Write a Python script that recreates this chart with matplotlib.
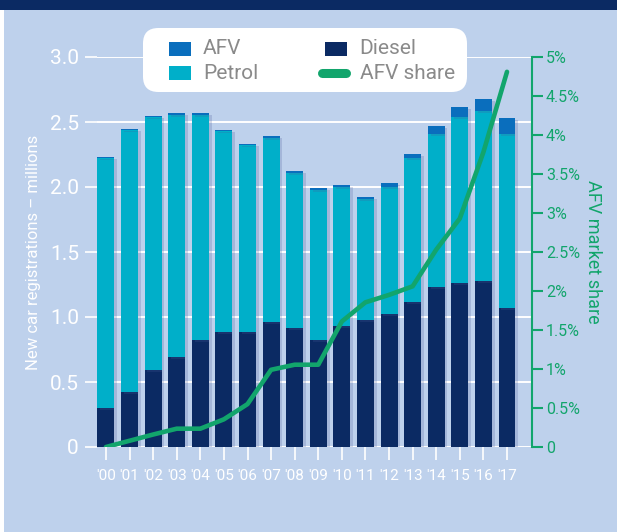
import matplotlib
matplotlib.use("Agg")
import matplotlib.pyplot as plt
import matplotlib.patheffects as pe
from matplotlib.patches import Rectangle, FancyBboxPatch
from matplotlib.lines import Line2D
from matplotlib.ticker import FixedLocator

# ── Data (millions / %) ───────────────────────────────────────────────────────

years = ["'00", "'01", "'02", "'03", "'04", "'05", "'06", "'07", "'08",
         "'09", "'10", "'11", "'12", "'13", "'14", "'15", "'16", "'17"]
diesel = [0.30, 0.42, 0.59, 0.69, 0.82, 0.885, 0.885, 0.96, 0.915,
          0.823, 0.931, 0.977, 1.023, 1.115, 1.231, 1.262, 1.277, 1.069]
petrol = [1.92, 2.02, 1.95, 1.866, 1.736, 1.545, 1.435, 1.42, 1.195,
          1.152, 1.069, 0.931, 0.977, 1.108, 1.177, 1.276, 1.308, 1.339]
afv = [0.01, 0.01, 0.01, 0.014, 0.014, 0.01, 0.01, 0.01, 0.015,
       0.015, 0.015, 0.015, 0.03, 0.031, 0.061, 0.077, 0.092, 0.123]
afv_share = [0.0, 0.08, 0.16, 0.235, 0.235, 0.355, 0.55, 0.99, 1.055,
             1.055, 1.61, 1.855, 1.95, 2.06, 2.53, 2.93, 3.78, 4.81]

left_ticks = [0, 0.5, 1.0, 1.5, 2.0, 2.5, 3.0]
left_labels = ["0", "0.5", "1.0", "1.5", "2.0", "2.5", "3.0"]
right_ticks = [0, 0.5, 1, 1.5, 2, 2.5, 3, 3.5, 4, 4.5, 5]
right_labels = ["0", "0.5%", "1%", "1.5%", "2%", "2.5%", "3%", "3.5%",
                "4%", "4.5%", "5%"]

# ── Colours ───────────────────────────────────────────────────────────────────

BG = "#BED1EC"
BAND = "#0B2A63"
C_DIESEL = "#0B2A63"
C_PETROL = "#00AFC9"
C_AFV = "#0A6EBD"
C_LINE = "#12A56C"
WHITE = "#FFFFFF"
GREY = "#8a8a8a"

plt.rcParams["font.family"] = ["Roboto", "DejaVu Sans"]

W, H = 617, 532
fig = plt.figure(figsize=(W / 100, H / 100), dpi=100)
fig.patch.set_facecolor(BG)


def fx(px):
    return px / W


def fy(py):
    # pixel rows counted from the top
    return 1 - py / H


# top band and thin left strip
fig.patches.append(Rectangle((0, fy(10)), 1, 10 / H, transform=fig.transFigure,
                             facecolor=BAND, edgecolor="none", zorder=0))
fig.patches.append(Rectangle((0, 0), fx(4), fy(10), transform=fig.transFigure,
                             facecolor=WHITE, edgecolor="none", zorder=0))

ax = fig.add_axes([fx(97), fy(447), fx(435), 390 / H])
ax.set_facecolor("none")

x = list(range(len(years)))
shadow = [pe.SimplePatchShadow(offset=(2, -1.5), shadow_rgbFace="#4a5a99", alpha=0.22),
          pe.Normal()]
bottom2 = [d + p for d, p in zip(diesel, petrol)]
b1 = ax.bar(x, diesel, width=0.72, color=C_DIESEL, zorder=3)
b2 = ax.bar(x, petrol, width=0.72, bottom=diesel, color=C_PETROL, zorder=3)
b3 = ax.bar(x, afv, width=0.72, bottom=bottom2, color=C_AFV, zorder=3)
for bars in (b1, b2, b3):
    for b in bars:
        b.set_path_effects(shadow)

ax.set_xlim(-0.38, 18.06)
ax.set_ylim(0, 3.0)
ax.yaxis.set_major_locator(FixedLocator(left_ticks))
ax.set_yticklabels(left_labels)
ax.set_xticks(x)
ax.set_xticklabels(years)
ax.grid(axis="y", color=WHITE, linewidth=1.4, zorder=0)
ax.set_axisbelow(True)
for s in ax.spines.values():
    s.set_visible(False)
ax.tick_params(axis="y", colors=WHITE, labelsize=15, length=9, width=1.2, pad=4,
               direction="out")
ax.tick_params(axis="x", colors=WHITE, labelsize=11, length=9, width=1.2, pad=7,
               direction="out")
ax.set_ylabel("New car registrations – millions", color=WHITE, fontsize=12,
              labelpad=6)

# ── AFV share on right axis ───────────────────────────────────────────────────

ax2 = ax.twinx()
ax2.set_ylim(0, 5)
ax2.plot(x, afv_share, color=C_LINE, linewidth=3.3, solid_joinstyle="round",
         solid_capstyle="round", zorder=5)
ax2.yaxis.set_major_locator(FixedLocator(right_ticks))
ax2.set_yticklabels(right_labels)
for name, s in ax2.spines.items():
    s.set_visible(name == "right")
ax2.spines["right"].set_color(C_LINE)
ax2.spines["right"].set_linewidth(1.5)
ax2.tick_params(axis="y", colors=C_LINE, labelsize=11.5, length=8, width=1.5, pad=2)
ax2.set_ylabel("AFV market share", color=C_LINE, fontsize=13, rotation=-90,
               labelpad=16)

# ── Legend (white rounded box) ────────────────────────────────────────────────

box = FancyBboxPatch((fx(143), fy(92)), fx(467 - 143), (92 - 28) / H,
                     boxstyle="round,pad=0,rounding_size=0.025",
                     mutation_aspect=W / H, transform=fig.transFigure,
                     facecolor=WHITE, edgecolor="none", zorder=10)
fig.patches.append(box)


def legend_square(px, py, color, label):
    fig.patches.append(Rectangle((fx(px), fy(py + 7)), fx(22), 14 / H,
                                 transform=fig.transFigure, facecolor=color,
                                 edgecolor="none", zorder=11))
    fig.text(fx(px + 34), fy(py), label, color=GREY, fontsize=15,
             va="center", ha="left", zorder=11)


legend_square(169, 49, C_AFV, "AFV")
legend_square(169, 73, C_PETROL, "Petrol")
legend_square(325, 49, C_DIESEL, "Diesel")
fig.lines.append(Line2D([fx(322), fx(346)], [fy(73), fy(73)], color=C_LINE,
                        linewidth=6.5, solid_capstyle="round",
                        transform=fig.transFigure, zorder=11))
fig.text(fx(360), fy(73), "AFV share", color=GREY, fontsize=15,
         va="center", ha="left", zorder=11)

fig.savefig("out.png", dpi=100, facecolor=fig.get_facecolor())
